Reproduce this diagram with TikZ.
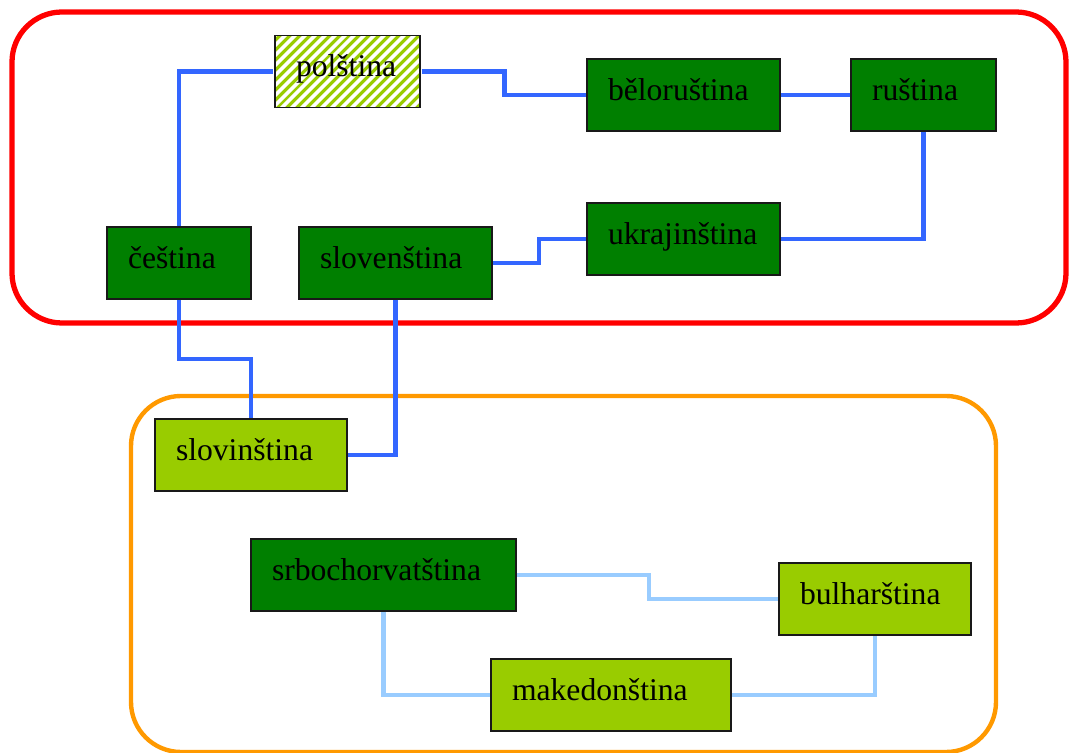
\documentclass[tikz,border=0pt]{standalone}
\usepackage{fontspec}
\setmainfont{Liberation Serif}
\usepackage{tikz}
\usetikzlibrary{calc,patterns.meta}
\definecolor{tmavezelena}{HTML}{007F00}
\definecolor{svetlezelena}{HTML}{99CC00}
\definecolor{modra}{HTML}{3366FF}
\definecolor{svetlemodra}{HTML}{99CCFF}
\definecolor{oranzova}{HTML}{FF9900}
\tikzset{
	jazyk/.style={draw=black!90, line width=0.9pt, minimum height=1.44cm, inner xsep=0.42cm,
		text width=#1, align=left, text height=12pt, text depth=6.3pt,
		font=\fontsize{18}{20}\selectfont},
	zapadni/.style={fill=tmavezelena},
	jizni/.style={fill=svetlezelena},
	spoj/.style={draw=modra, line width=2.5pt},
	spojjih/.style={draw=svetlemodra, line width=2.5pt}
}

\begin{document}
\begin{tikzpicture}[x=0.02cm, y=-0.02cm]
		%%%%% START %%%%%
		\useasboundingbox (0, 0) rectangle (1069, 753);
		
		\draw[red, line width=3pt, rounded corners=1cm] (12, 12) rectangle (1066, 323);
		\draw[oranzova, line width=2.5pt, rounded corners=1cm] (131, 396) rectangle (996, 752);
		
		\node[jazyk=2.06cm, pattern={Lines[angle=45, distance=4pt, line width=1.9pt]}, pattern color=svetlezelena] (polstina) at (347.5, 71.5) {polština};
		\node[jazyk=3.02cm, zapadni] (belorustina) at (683.5, 95) {běloruština};
		\node[jazyk=2.06cm, zapadni] (rustina) at (923.5, 95) {ruština};
		\node[jazyk=3.02cm, zapadni] (ukrajinstina) at (683.5, 239) {ukrajinština};
		\node[jazyk=2.04cm, zapadni] (cestina) at (179, 263) {čeština};
		\node[jazyk=3.02cm, zapadni] (slovenstina) at (395.5, 263) {slovenština};
		
		\node[jazyk=3.0cm, jizni] (slovinstina) at (251, 455) {slovinština};
		\node[jazyk=4.46cm, zapadni] (srbochorvatstina) at (383.5, 575) {srbochorvatština};
		\node[jazyk=3.0cm, jizni] (bulharstina) at (875, 599) {bulharština};
		\node[jazyk=3.96cm, jizni] (makedonstina) at (611, 695) {makedonština};
		
		\draw[spoj] (cestina.north) |- (polstina.west);
		\draw[spoj] (polstina.east) -- ++(83, 0) |- (belorustina.west);
		\draw[spoj] (belorustina.east) -- (rustina.west);
		\draw[spoj] (rustina.south) |- (ukrajinstina.east);
		\draw[spoj] (ukrajinstina.west) -- ++(-47, 0) |- (slovenstina.east);
		\draw[spoj] (cestina.south) -- ++(0, 59) -| (slovinstina.north);
		\draw[spoj] (slovenstina.south) |- (slovinstina.east);
		
		\draw[spojjih] (srbochorvatstina.east) -- ++(132, 0) |- (bulharstina.west);
		\draw[spojjih] (srbochorvatstina.south) |- (makedonstina.west);
		\draw[spojjih] (makedonstina.east) -| (bulharstina.south);
		
		%%%%% END %%%%%
	\end{tikzpicture}
\end{document}
